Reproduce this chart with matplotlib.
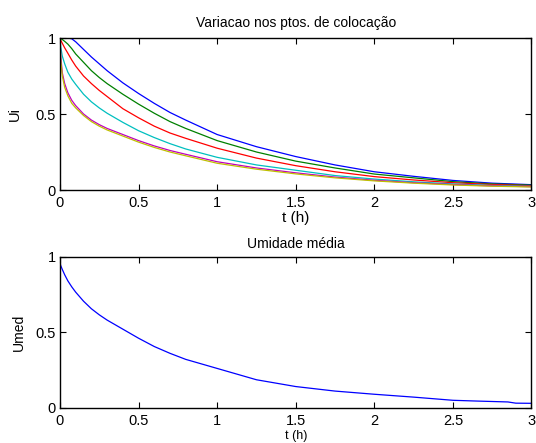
import matplotlib
matplotlib.use('Agg')
import matplotlib.pyplot as plt

# Ui at the collocation points and mean moisture Umed

t = [0, 0.005, 0.015, 0.03, 0.05, 0.075, 0.1, 0.15, 0.2, 0.25, 0.3, 0.4, 0.5,
     0.6, 0.7, 0.8, 1.0, 1.25, 1.5, 1.75, 2.0, 2.25, 2.5, 2.75, 3.0]

u_blue = [1, 1, 1, 1, 1, 0.995, 0.975, 0.925, 0.875, 0.83, 0.785, 0.705, 0.635,
          0.57, 0.51, 0.46, 0.365, 0.285, 0.22, 0.165, 0.12, 0.09, 0.063, 0.045, 0.035]
u_green = [1, 0.997, 0.99, 0.978, 0.96, 0.93, 0.895, 0.84, 0.785, 0.74, 0.70, 0.63, 0.565,
           0.505, 0.45, 0.405, 0.325, 0.25, 0.19, 0.145, 0.105, 0.08, 0.055, 0.04, 0.032]
u_red = [1, 0.985, 0.965, 0.935, 0.9, 0.855, 0.815, 0.75, 0.70, 0.655, 0.615, 0.535, 0.475,
         0.42, 0.375, 0.34, 0.275, 0.21, 0.16, 0.12, 0.088, 0.066, 0.048, 0.036, 0.028]
u_cyan = [1, 0.94, 0.88, 0.83, 0.775, 0.73, 0.695, 0.63, 0.58, 0.54, 0.505, 0.445, 0.39,
          0.345, 0.305, 0.27, 0.215, 0.165, 0.13, 0.095, 0.072, 0.054, 0.04, 0.03, 0.024]
u_magenta = [1, 0.88, 0.77, 0.70, 0.64, 0.59, 0.555, 0.50, 0.46, 0.43, 0.405, 0.365, 0.325,
             0.29, 0.26, 0.235, 0.186, 0.145, 0.113, 0.085, 0.064, 0.048, 0.036, 0.027, 0.022]
u_yellow = [1, 0.85, 0.75, 0.675, 0.62, 0.57, 0.54, 0.49, 0.45, 0.42, 0.395, 0.355, 0.315,
            0.28, 0.25, 0.225, 0.176, 0.137, 0.106, 0.08, 0.06, 0.045, 0.033, 0.025, 0.02]

t_med = [0, 0.005, 0.015, 0.03, 0.05, 0.075, 0.1, 0.15, 0.2, 0.25, 0.3, 0.4, 0.5,
         0.6, 0.7, 0.8, 1.0, 1.25, 1.5, 1.75, 2.0, 2.25, 2.5, 2.65, 2.85, 2.9, 3.0]
u_med = [0.96, 0.94, 0.915, 0.88, 0.84, 0.80, 0.765, 0.705, 0.655, 0.615, 0.58, 0.52, 0.46,
         0.405, 0.36, 0.32, 0.26, 0.185, 0.14, 0.11, 0.089, 0.07, 0.049, 0.044, 0.038, 0.03, 0.029]

series = [u_blue, u_green, u_red, u_cyan, u_magenta, u_yellow]
colors = ['#0000ff', '#008000', '#ff0000', '#00bfbf', '#bf00bf', '#bfbf00']

plt.rcParams['font.family'] = ['Liberation Sans', 'DejaVu Sans']

fig = plt.figure(figsize=(5.36, 4.43), dpi=100)
ax1 = fig.add_axes([0.1119, 0.5711, 0.8797, 0.3431])
ax2 = fig.add_axes([0.1119, 0.0797, 0.8797, 0.3409])

for u, c in zip(series, colors):
    ax1.plot(t, u, color=c, lw=0.9)
ax2.plot(t_med, u_med, color='#0000ff', lw=0.9)

for ax in (ax1, ax2):
    ax.set_xlim(0, 3)
    ax.set_ylim(0, 1)
    ax.set_xticks([0, 0.5, 1, 1.5, 2, 2.5, 3])
    ax.set_xticklabels(['0', '0.5', '1', '1.5', '2', '2.5', '3'])
    ax.set_yticks([0, 0.5, 1])
    ax.set_yticklabels(['0', '0.5', '1'])
    ax.tick_params(direction='in', top=True, right=True, length=4, width=0.8,
                   labelsize=10.5)
    ax.tick_params(axis='x', pad=4.5)
    ax.tick_params(axis='y', pad=3)
    for s in ax.spines.values():
        s.set_linewidth(1.0)

ax1.set_title('Variacao nos ptos. de colocação', fontsize=10, pad=7.9)
ax1.set_xlabel('t (h)', fontsize=11)
ax1.xaxis.set_label_coords(0.5, -0.135)
ax1.set_ylabel('Ui', fontsize=10.5)
ax1.yaxis.set_label_coords(-0.08, 0.5)

ax2.set_title('Umidade média', fontsize=10, pad=6.5)
ax2.set_xlabel('t (h)', fontsize=9)
ax2.xaxis.set_label_coords(0.5, -0.15)
ax2.set_ylabel('Umed', fontsize=10)
ax2.yaxis.set_label_coords(-0.072, 0.5)

fig.savefig('out.png', dpi=100)
